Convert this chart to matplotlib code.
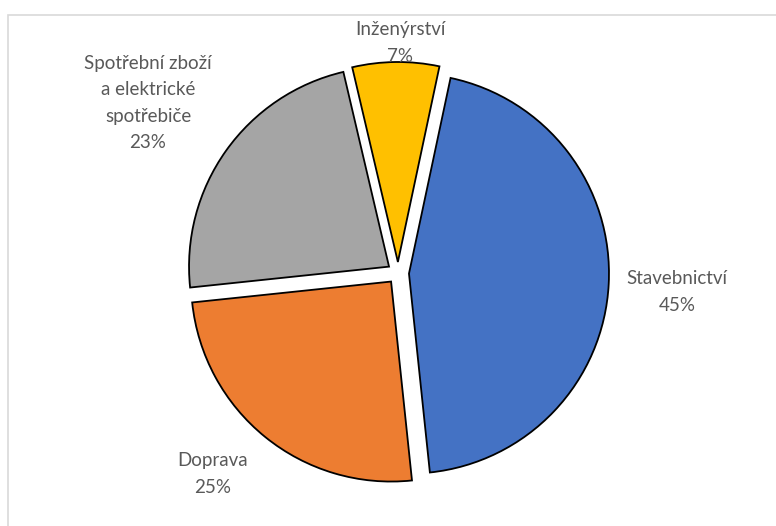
import matplotlib.pyplot as plt
from matplotlib.patches import Rectangle

# sector shares (%), drawn clockwise from the top
sectors = ["Stavebnictví", "Doprava", "Spotřební zboží\na elektrické\nspotřebiče", "Inženýrství"]
shares = [45, 25, 23, 7]
colors = ["#4472C4", "#ED7D31", "#A5A5A5", "#FFC000"]

# label anchor points in pixels (x, y from top)
label_pos = [(677, 292), (213, 474), (148, 103), (400, 43)]

W, H = 776, 526
R = 200
fig = plt.figure(figsize=(W / 100, H / 100), dpi=100)
ax = fig.add_axes([0, 0, 1, 1])

# explode offsets are in data units here, so use pixels
ax.pie(shares, colors=colors, startangle=78, counterclock=False,
       explode=[0.055 * R] * len(shares), radius=R, center=(398, H - 273),
       wedgeprops=dict(edgecolor="black", linewidth=1.3), frame=True)

ax.set_xlim(0, W)
ax.set_ylim(0, H)
ax.axis("off")

for name, val, (x, y) in zip(sectors, shares, label_pos):
    ax.text(x, H - y, f"{name}\n{val}%", ha="center", va="center",
            fontsize=13.5, family="Lato", color="#595959", linespacing=1.68)

# chart area border (runs off the right and bottom edges)
fig.add_artist(Rectangle((7.5 / W, -0.1), 1.2, (H - 14.5) / H + 0.1,
                         transform=fig.transFigure, fill=False,
                         edgecolor="#D9D9D9", linewidth=1.2))

fig.savefig("out.png", dpi=100)
